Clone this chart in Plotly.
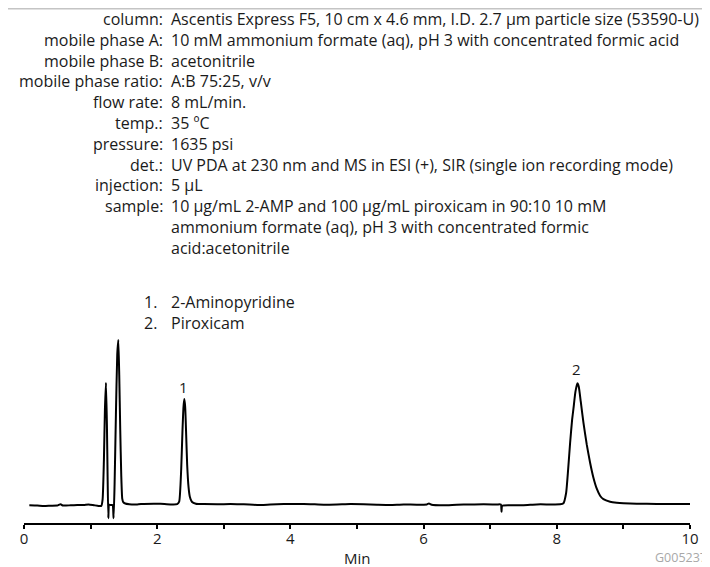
import plotly.graph_objects as go

# ---------------- data ----------------
time_min = [0.08, 0.20, 0.30, 0.40, 0.50, 0.55, 0.58, 0.70, 0.80, 0.90, 0.97, 1.05, 1.12, 1.16,
            1.18, 1.20, 1.215, 1.231, 1.245, 1.255, 1.266, 1.278, 1.30, 1.33, 1.345, 1.36, 1.38,
            1.40, 1.416, 1.43, 1.445, 1.46, 1.475, 1.49, 1.52, 1.58, 1.70, 1.80, 1.95, 2.05,
            2.20, 2.30, 2.33, 2.36, 2.38, 2.395, 2.407, 2.42, 2.435, 2.45, 2.47, 2.49, 2.52,
            2.58, 2.70, 2.90, 3.10, 3.30, 3.50, 3.70, 3.90, 4.10, 4.30, 4.50, 4.70, 4.90, 5.10,
            5.30, 5.50, 5.70, 5.90, 6.05, 6.08, 6.12, 6.30, 6.50, 6.70, 6.90, 7.10, 7.16, 7.17,
            7.18, 7.30, 7.50, 7.70, 7.90, 8.05, 8.10, 8.14, 8.17, 8.20, 8.23, 8.25, 8.28, 8.31,
            8.33, 8.36, 8.40, 8.45, 8.50, 8.55, 8.60, 8.65, 8.70, 8.80, 8.90, 9.00, 9.20, 9.50,
            9.80, 10.00]
signal = [-0.5, -0.8, -1.3, -1.0, -0.8, 0.5, -0.8, -0.6, -0.3, -0.2, 0.3, -0.5, -1.2, -1.3,
          5, 45, 95, 122, 80, 30, -13.5, 0, -0.3, -0.3, -13.5, 20, 90,
          150, 164.7, 130, 75, 30, 6, 2.5, 1.2, 0.5, 0.3, 0.8, 1.0, 0.9,
          0.3, 0.5, 3, 35, 75, 98, 105.7, 98, 70, 40, 18, 8, 3,
          1.0, 0.6, 0.5, 0.6, 0.4, -0.3, 0.2, 0.6, 0.8, 0.5, 0.0, 0.2, 0.6, 0.4,
          0.0, -0.3, 0.2, 0.0, 0.3, 1.2, 0.0, -0.5, 0.0, 0.2, 0.5, 0.2, 0.2, -7,
          -1, -0.5, -0.5, 0.3, 0.3, 0.4, 1.5, 11.7, 35, 62, 85, 96, 113, 121.4,
          118, 103, 82, 60, 42, 27, 16, 9, 5.5, 3, 2, 1.5, 1.0, 0.8,
          0.7, 0.7]

peak_labels = ["1", "2"]
peak_label_time = [2.40, 8.30]
peak_label_signal = [118, 135.7]

param_labels = ["column:", "mobile phase A:", "mobile phase B:", "mobile phase ratio:",
                "flow rate:", "temp.:", "pressure:", "det.:", "injection:", "sample:"]
param_values = [
    ["Ascentis Express F5, 10 cm x 4.6 mm, I.D. 2.7 µm particle size (53590-U)"],
    ["10 mM ammonium formate (aq), pH 3 with concentrated formic acid"],
    ["acetonitrile"],
    ["A:B 75:25, v/v"],
    ["8 mL/min."],
    ["35 ºC"],
    ["1635 psi"],
    ["UV PDA at 230 nm and MS in ESI (+), SIR (single ion recording mode)"],
    ["5 µL"],
    ["10 µg/mL 2-AMP and 100 µg/mL piroxicam in 90:10 10 mM",
     "ammonium formate (aq), pH 3 with concentrated formic",
     "acid:acetonitrile"],
]
compound_numbers = ["1.", "2."]
compound_names = ["2-Aminopyridine", "Piroxicam"]

tick_values = [0, 1, 2, 3, 4, 5, 6, 7, 8, 9, 10]
tick_text = ["0", "", "2", "", "4", "", "6", "", "8", "", "10"]
x_title = "Min"
code_text = "G005237"

# ---------------- layout helpers (page pixel -> paper) ----------------
OFF = 8                      # default page margin around the figure
W, H = 710 - OFF, 567 - OFF
PLOT_L, PLOT_R, PLOT_T, PLOT_B = 24, 690, 334, 523   # page pixels
ML, MR = PLOT_L - OFF, W - (PLOT_R - OFF)
MT, MB = PLOT_T - OFF, H - (PLOT_B - OFF)
PW, PH = W - ML - MR, H - MT - MB
FONT = "Open Sans"
FS = 16
TXT = "#1a1a1a"


def px(xp):
    return (xp - OFF - ML) / PW


def py(yp):
    return (H - MB - (yp - OFF)) / PH


fig = go.Figure()
fig.add_trace(go.Scatter(x=time_min, y=signal, mode="lines",
                         line=dict(color="black", width=2, shape="spline", smoothing=0.5),
                         hoverinfo="skip", showlegend=False))

ann = []
line_h = 20.8
y0 = 19.0
row = 0
for lab, vals in zip(param_labels, param_values):
    ann.append(dict(text=lab, x=px(165), y=py(y0 + row * line_h), xanchor="right"))
    for v in vals:
        ann.append(dict(text=v, x=px(169), y=py(y0 + row * line_h), xanchor="left"))
        row += 1

cy0 = 302.0
for i, (n, name) in enumerate(zip(compound_numbers, compound_names)):
    ann.append(dict(text=n, x=px(159), y=py(cy0 + i * line_h), xanchor="right"))
    ann.append(dict(text=name, x=px(169), y=py(cy0 + i * line_h), xanchor="left"))

for a in ann:
    a.update(xref="paper", yref="paper", yanchor="middle", showarrow=False,
             font=dict(family=FONT, size=FS, color=TXT))

for t, xv, yv in zip(peak_labels, peak_label_time, peak_label_signal):
    ann.append(dict(text=t, x=xv, y=yv, xref="x", yref="y", showarrow=False,
                    xanchor="center", yanchor="middle",
                    font=dict(family=FONT, size=15, color=TXT)))

ann.append(dict(text=x_title, x=5, y=py(558), xref="x", yref="paper", showarrow=False,
                xanchor="center", yanchor="middle",
                font=dict(family=FONT, size=15, color=TXT)))
ann.append(dict(text=code_text, x=px(709), y=py(557), xref="paper", yref="paper",
                showarrow=False, xanchor="right", yanchor="middle",
                font=dict(family=FONT, size=12.5, color="#a8a8a8")))

fig.update_layout(
    width=W, height=H,
    margin=dict(l=ML, r=MR, t=MT, b=MB, pad=0),
    paper_bgcolor="white", plot_bgcolor="white",
    annotations=ann,
    shapes=[dict(type="line", xref="paper", yref="paper", x0=px(8), x1=px(712),
                 y0=py(8.7), y1=py(8.7), line=dict(color="#c4c4c4", width=1.5))],
    xaxis=dict(range=[0, 10], showline=True, linecolor="black", linewidth=1.5,
               ticks="outside", ticklen=4, tickwidth=1.5, tickcolor="black",
               tickvals=tick_values, ticktext=tick_text, showgrid=False, zeroline=False,
               ticklabelstandoff=-3,
               tickfont=dict(family=FONT, size=15, color=TXT)),
    yaxis=dict(range=[-18.3, 170.7], visible=False, showgrid=False, zeroline=False),
)

fig.write_html("out.html")
